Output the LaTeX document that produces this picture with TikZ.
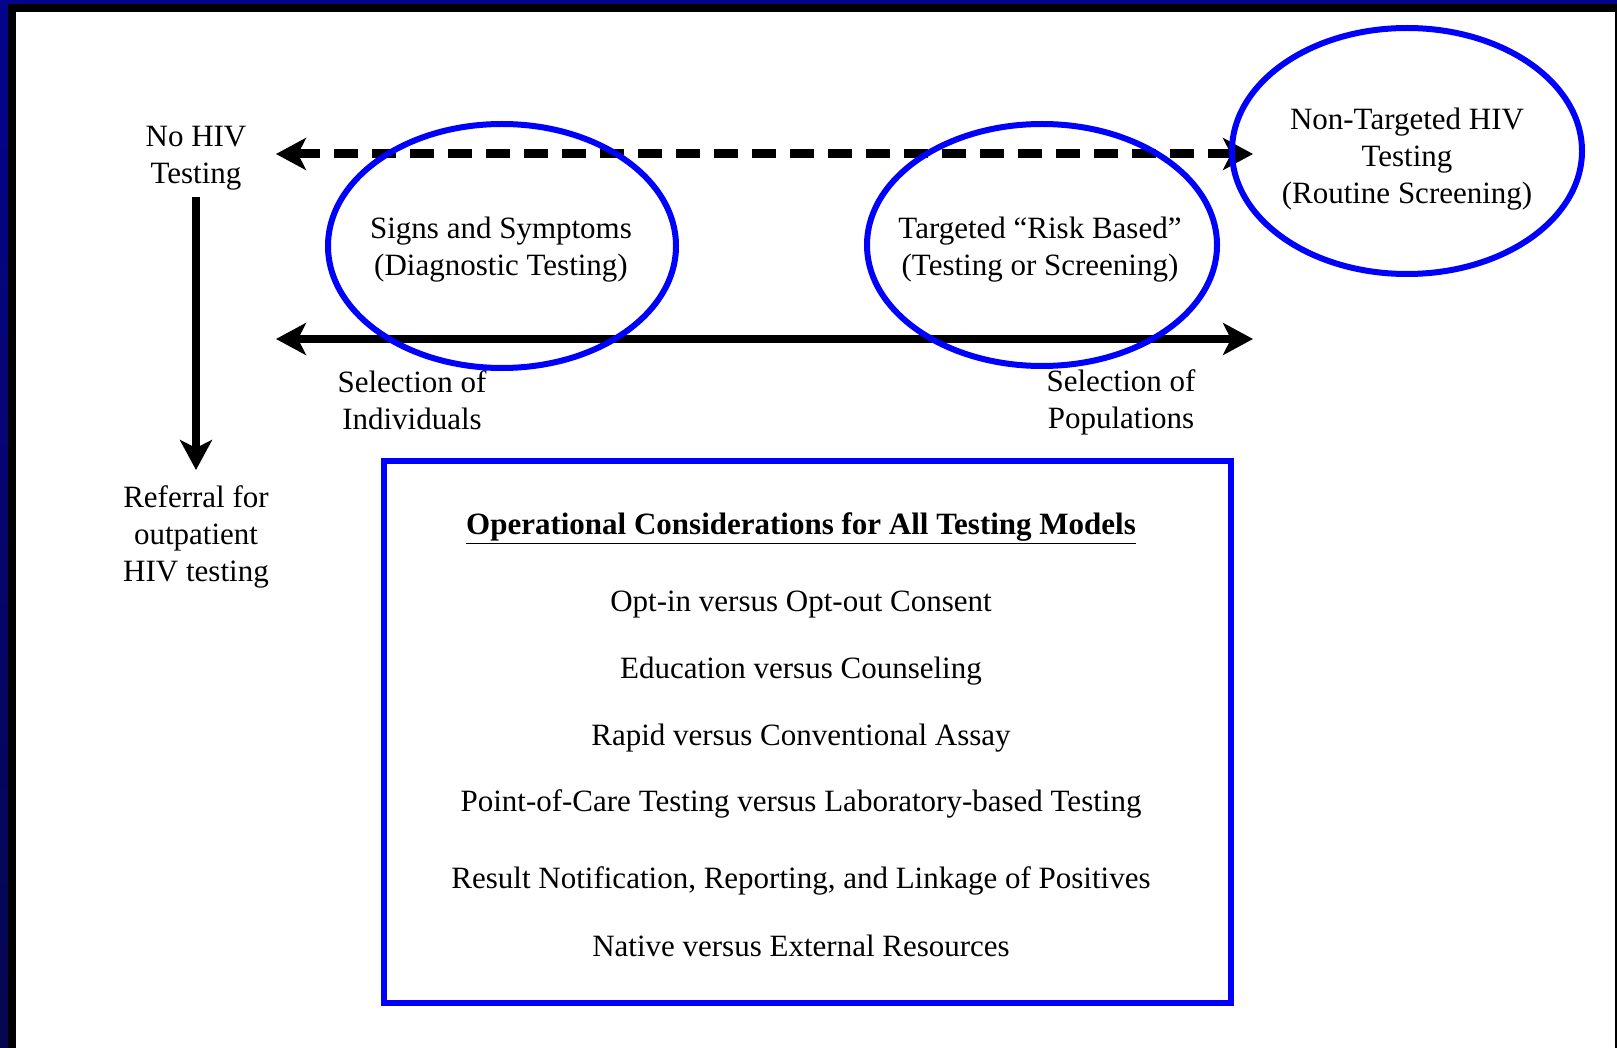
\documentclass[tikz,border=0pt]{standalone}
\usepackage{fontspec}
\setmainfont{Liberation Serif}
\usetikzlibrary{arrows.meta,shapes.geometric}
\definecolor{navy}{RGB}{4,4,140}
\definecolor{navydark}{RGB}{6,6,80}
\definecolor{pureblue}{RGB}{0,0,255}
\tikzset{
  txt/.style={align=center, inner sep=0pt, font=\fontsize{15.5pt}{18.5pt}\selectfont},
  boldtxt/.style={txt, font=\fontsize{15.5pt}{18.5pt}\selectfont\bfseries},
  bigtip/.tip={Stealth[length=15pt,width=16pt,inset=4pt]},
  solidarrow/.style={line width=4pt},
  dasharrow/.style={line width=4.5pt, dash pattern=on 12pt off 7pt},
  oval/.style={ellipse, draw=pureblue, line width=3pt, inner sep=0pt},
  bluebox/.style={rectangle, draw=pureblue, line width=3pt, inner sep=0pt}
}
\begin{document}
\begin{tikzpicture}[x=0.5pt,y=-0.5pt]
% frame
\fill[white] (0,0) rectangle (1617,1048);
\useasboundingbox (0,0) rectangle (1617,1048);
\fill[navy] (0,0) rectangle (1617,4);
\shade[top color=navy, bottom color=navydark] (0,0) rectangle (8,1048);
\fill[black] (8,4) rectangle (1617,12);
\fill[black] (8,12) rectangle (16,1048);
\fill[black] (1615,12) rectangle (1617,1048);

% texts
\node[txt] (nohiv) at (196,158) {No HIV\\Testing};
\node[txt] (referral) at (196,537) {Referral for\\outpatient\\HIV testing};
\node[txt] (selind) at (412,400) {Selection of\\Individuals};
\node[txt] (selpop) at (1121,402) {Selection of\\Populations};
\node[txt] (t1) at (501,250) {Signs and Symptoms\\(Diagnostic Testing)};
\node[txt] (t2) at (1040,250) {Targeted “Risk Based”\\(Testing or Screening)};
\node[txt] (t3) at (1407,159) {Non-Targeted HIV\\Testing\\(Routine Screening)};

% arrows
\coordinate (dl) at (276,154);
\coordinate (dr) at (1253,154);
\draw[dasharrow, {bigtip}-{bigtip}] (dl) -- (dr);
\coordinate (sl) at (276,339);
\coordinate (sr) at (1253,339);
\draw[solidarrow, {bigtip}-{bigtip}] (sl) -- (sr);
\coordinate (vt) at (196,197);
\coordinate (vb) at (196,470);
\draw[solidarrow, -{bigtip}] (vt) -- (vb);

% box
\node[bluebox, minimum width=423.5pt, minimum height=271pt] (box) at (807.5,732) {};
\node[boldtxt, anchor=base] (hdr) at (801,534) {\underline{Operational Considerations for All Testing Models}};
\node[txt, anchor=base] (l1) at (801,611) {Opt-in versus Opt-out Consent};
\node[txt, anchor=base] (l2) at (801,678) {Education versus Counseling};
\node[txt, anchor=base] (l3) at (801,745) {Rapid versus Conventional Assay};
\node[txt, anchor=base] (l4) at (801,811) {Point-of-Care Testing versus Laboratory-based Testing};
\node[txt, anchor=base] (l5) at (801,888) {Result Notification, Reporting, and Linkage of Positives};
\node[txt, anchor=base] (l6) at (801,956) {Native versus External Resources};

% ellipses
\node[oval, minimum width=174pt, minimum height=122pt] (e1) at (502,246) {};
\node[oval, minimum width=175pt, minimum height=121pt] (e2) at (1042,245) {};
\node[oval, minimum width=175pt, minimum height=123pt] (e3) at (1407,151) {};
\end{tikzpicture}
\end{document}
